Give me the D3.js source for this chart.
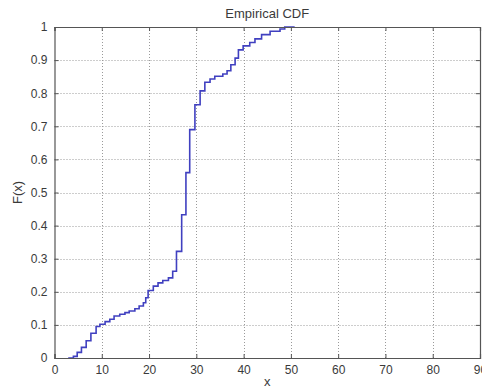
<!DOCTYPE html>
<html>
<head>
<meta charset="utf-8">
<script src="https://cdn.jsdelivr.net/npm/d3@7"></script>
<style>
html,body{margin:0;padding:0;background:#fff;}
svg{display:block;}
text{font-family:"Liberation Sans",Arial,sans-serif;fill:#3a3a3a;}
</style>
</head>
<body>
<svg id="chart" width="482" height="391"></svg>
<script>
const titleText = "Empirical CDF";
const xLabel = "x";
const yLabel = "F(x)";
const xTicks = [0,10,20,30,40,50,60,70,80,90];
const yTicks = [0,0.1,0.2,0.3,0.4,0.5,0.6,0.7,0.8,0.9,1];
const stepX = [2.9,4.0,4.8,5.7,6.7,7.7,8.8,9.6,10.7,11.7,12.6,13.8,14.9,15.8,17.0,17.9,18.8,19.3,19.8,20.9,21.9,22.9,24.1,25.0,25.8,26.9,27.8,28.6,29.7,30.8,31.8,32.9,33.9,35.6,36.5,37.3,38.2,38.9,39.9,41.3,42.4,43.8,45.6,47.7,48.7,50.8];
const stepF = [0,0.005,0.017,0.032,0.052,0.075,0.095,0.102,0.11,0.117,0.127,0.132,0.137,0.142,0.149,0.157,0.167,0.182,0.204,0.217,0.227,0.234,0.242,0.262,0.322,0.433,0.56,0.69,0.765,0.807,0.833,0.843,0.851,0.858,0.868,0.886,0.906,0.931,0.943,0.953,0.964,0.977,0.987,0.994,1.0,1.0];

const L = 54.5, R = 480, T = 27, B = 358;
const svg = d3.select("#chart");
const x = d3.scaleLinear().domain([0,90]).range([L,R]);
const y = d3.scaleLinear().domain([0,1]).range([B,T]);

// grid
const grid = svg.append("g");
grid.selectAll("line.gx").data(xTicks.slice(1,-1)).enter().append("line")
  .attr("x1",d=>Math.round(x(d))+0.5).attr("x2",d=>Math.round(x(d))+0.5)
  .attr("y1",T).attr("y2",B)
  .attr("stroke","#9a9a9a").attr("stroke-width",1).attr("stroke-dasharray","1,2");
grid.selectAll("line.gy").data(yTicks.slice(1,-1)).enter().append("line")
  .attr("y1",d=>Math.round(y(d))+0.5).attr("y2",d=>Math.round(y(d))+0.5)
  .attr("x1",L).attr("x2",R)
  .attr("stroke","#9a9a9a").attr("stroke-width",1).attr("stroke-dasharray","1,2");

// data line
const pts = [[stepX[0],0]].concat(stepX.map((v,i)=>[v,stepF[i]]));
const line = d3.line().x(d=>x(d[0])).y(d=>y(d[1])).curve(d3.curveStepAfter);
svg.append("path").datum(pts).attr("d",line)
  .attr("fill","none").attr("stroke","#4040c0").attr("stroke-width",1.6);

// axes
const ax = "#555";
const xb = svg.append("g").attr("transform",`translate(0,${B})`)
  .call(d3.axisBottom(x).tickValues(xTicks).tickSize(-4).tickPadding(7).tickFormat(d3.format("d")));
const xt = svg.append("g").attr("transform",`translate(0,${T})`)
  .call(d3.axisTop(x).tickValues(xTicks).tickSize(-4).tickFormat(""));
const yl = svg.append("g").attr("transform",`translate(${L},0)`)
  .call(d3.axisLeft(y).tickValues(yTicks).tickSize(-4).tickPadding(7).tickFormat(d=>d===0||d===1?d3.format("d")(d):d3.format(".1f")(d)));
const yr = svg.append("g").attr("transform",`translate(${R},0)`)
  .call(d3.axisRight(y).tickValues(yTicks).tickSize(-4).tickFormat(""));
[xb,xt,yl,yr].forEach(g=>{
  g.selectAll("path.domain").attr("stroke",ax).attr("stroke-width",1.2);
  g.selectAll(".tick line").attr("stroke",ax).attr("stroke-width",1);
  g.selectAll(".tick text").attr("font-size",12).attr("fill","#3a3a3a")
    .attr("font-family","'Liberation Sans',Arial,sans-serif");
});

svg.append("text").attr("x",(L+R)/2).attr("y",18).attr("text-anchor","middle")
  .attr("font-size",13).text(titleText);
svg.append("text").attr("x",(L+R)/2).attr("y",386).attr("text-anchor","middle")
  .attr("font-size",13).text(xLabel);
svg.append("text").attr("transform",`translate(22,${(T+B)/2}) rotate(-90)`)
  .attr("text-anchor","middle").attr("font-size",13).text(yLabel);
</script>
</body>
</html>
